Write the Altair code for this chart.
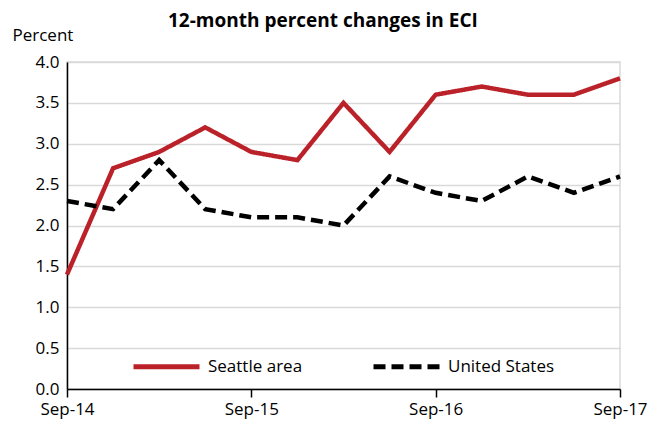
import altair as alt
import pandas as pd

quarters = list(range(13))
seattle = [1.4, 2.7, 2.9, 3.2, 2.9, 2.8, 3.5, 2.9, 3.6, 3.7, 3.6, 3.6, 3.8]
us = [2.3, 2.2, 2.8, 2.2, 2.1, 2.1, 2.0, 2.6, 2.4, 2.3, 2.6, 2.4, 2.6]
series_names = ["Seattle area", "United States"]
tick_positions = [0, 4, 8, 12]
tick_labels = ["Sep-14", "Sep-15", "Sep-16", "Sep-17"]

rows = []
for q, s, u in zip(quarters, seattle, us):
    rows.append({"q": q, "value": s, "series": series_names[0]})
    rows.append({"q": q, "value": u, "series": series_names[1]})
df = pd.DataFrame(rows)

label_map = "{" + ",".join(f"'{p}':'{l}'" for p, l in zip(tick_positions, tick_labels)) + "}"

FONT = "Open Sans"

legend_props = dict(title=None, orient="none", legendX=64, legendY=269,
                    direction="horizontal", symbolType="stroke",
                    symbolSize=4356, symbolStrokeWidth=5,
                    labelFontSize=17, labelFont=FONT, labelColor="black",
                    labelOffset=6, columnPadding=60)

chart = alt.Chart(df).mark_line(strokeWidth=4.5, strokeCap="butt").encode(
    x=alt.X("q:Q", scale=alt.Scale(domain=[0, 12], nice=False, zero=False),
            axis=alt.Axis(values=tick_positions, labelExpr=f"{label_map}[datum.value]",
                          title=None, grid=False, domainColor="black", domainWidth=1.5,
                          tickColor="black", tickWidth=1.5, tickSize=8,
                          labelFontSize=17, labelColor="black", labelFont=FONT,
                          labelPadding=4, labelFlush=False)),
    y=alt.Y("value:Q", scale=alt.Scale(domain=[0, 4], nice=False),
            axis=alt.Axis(values=[0, 0.5, 1, 1.5, 2, 2.5, 3, 3.5, 4], format=".1f",
                          title="Percent", titleAngle=0, titleX=-55, titleY=-27,
                          titleAlign="left", titleBaseline="middle",
                          titleFontSize=17, titleFontWeight="normal", titleFont=FONT,
                          titleColor="black",
                          grid=True, gridColor="#D9D9D9", gridWidth=1.5,
                          domainColor="black", domainWidth=1.5, ticks=False,
                          labelFontSize=17, labelColor="black", labelFont=FONT,
                          labelPadding=8)),
    color=alt.Color("series:N", scale=alt.Scale(domain=series_names, range=["#BA2129", "black"]),
                    legend=alt.Legend(**legend_props)),
    strokeDash=alt.StrokeDash("series:N", scale=alt.Scale(domain=series_names, range=[[1, 0], [12, 6]]),
                              legend=alt.Legend(**legend_props)),
).properties(
    width=553, height=327,
    title=alt.TitleParams("12-month percent changes in ECI", fontSize=19, fontWeight="bold",
                          font=FONT, color="black", anchor="start", frame="group",
                          offset=-5, dx=101),
    autosize=alt.AutoSizeParams(type="none"),
    padding={"left": 59, "top": 54, "right": 34, "bottom": 32},
).configure_view(stroke="#D9D9D9", strokeWidth=1.5)

chart.save("out.html", embed_options={"renderer": "svg", "actions": False})
